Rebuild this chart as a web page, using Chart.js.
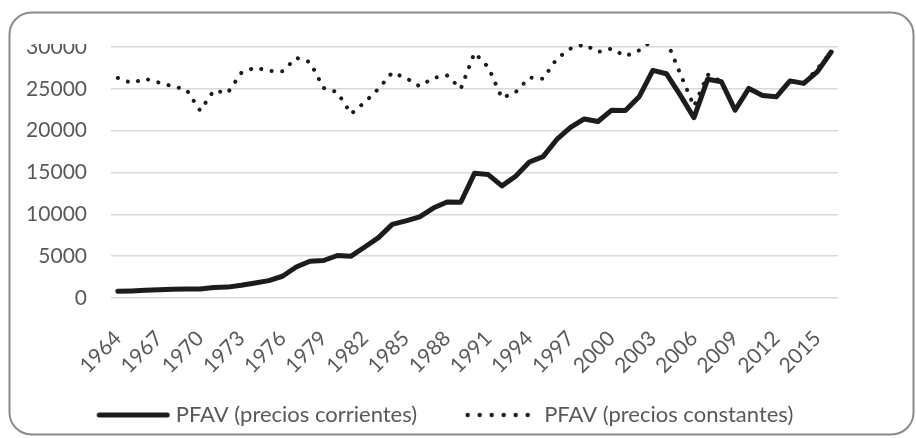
<!DOCTYPE html>
<html>
<head>
<meta charset="utf-8">
<script src="https://cdn.jsdelivr.net/npm/chart.js@4/dist/chart.umd.min.js"></script>
<style>
  html, body { margin: 0; padding: 0; background: #fff; }
  #wrap { width: 916px; height: 438px; }
</style>
</head>
<body>
<div id="wrap"><canvas id="pfav-chart" width="916" height="438"></canvas></div>
<script>
// years on the x axis, only every 3rd one gets a label
const years = [];
for (let y = 1964; y <= 2016; y++) years.push(String(y));

const corrientes = [
  800, 850, 920, 1000, 1050, 1080, 1080, 1250, 1300, 1520,
  1800, 2080, 2600, 3700, 4400, 4480, 5080, 5000, 6100, 7220,
  8800, 9220, 9700, 10750, 11470, 11450, 14900, 14750, 13400, 14550,
  16250, 16900, 18950, 20400, 21400, 21100, 22450, 22400, 24050, 27200,
  26800, 24250, 21550, 26150, 25850, 22450, 25050, 24200, 24050, 25950,
  25650, 27050, 29400
];

const constantes = [
  26300, 25700, 26200, 25750, 25300, 24900, 22400, 24800, 24500, 26900,
  27550, 27150, 27100, 28700, 28200, 25100, 24600, 22000, 23400, 25000,
  26950, 26300, 25300, 26300, 26600, 25000, 29300, 27600, 23900, 24600,
  26350, 26200, 28600, 29800, 30300, 29400, 29800, 28900, 29600, 30800,
  30800, 26800, 22900, 26700, 25900, 22500, 25050, 24200, 24050, 25950,
  25650, 27400, 29400
];

const yTicks = [0, 5000, 10000, 15000, 20000, 25000, 30000];

const ink = "#1c1c1c";
const boxW = 106; // legend box; the marker picture is 11px wider

Chart.defaults.font.family = "Lato, 'DejaVu Sans', sans-serif";
Chart.defaults.font.size = 21;
Chart.defaults.color = "#595959";

// legend marker pictures, drawn against the right side so the empty
// left part works as the gap between the two legend entries
function legendMark(dotted) {
  const c = document.createElement("canvas");
  c.width = boxW + 11;
  c.height = 8;
  const g = c.getContext("2d");
  g.strokeStyle = ink;
  g.fillStyle = ink;
  if (dotted) {
    for (let x = 46; x < 108; x += 12) {
      g.beginPath();
      g.arc(x, 4, 2.2, 0, Math.PI * 2);
      g.fill();
    }
  } else {
    g.lineWidth = 5;
    g.lineCap = "round";
    g.beginPath();
    g.moveTo(46, 4);
    g.lineTo(c.width - 3, 4);
    g.stroke();
  }
  return c;
}

// rounded frame + the cut at the top of the picture
const framePlugin = {
  id: "frame",
  afterDraw(chart) {
    const ctx = chart.ctx;
    ctx.save();
    ctx.fillStyle = "#fff";
    ctx.fillRect(14, 14, 100, 30);
    ctx.strokeStyle = "#8a8a8a";
    ctx.lineWidth = 2;
    ctx.beginPath();
    ctx.roundRect(9.5, 12.5, 904, 422, 22);
    ctx.stroke();
    ctx.restore();
  }
};

new Chart(document.getElementById("pfav-chart"), {
  type: "line",
  data: {
    labels: years,
    datasets: [
      {
        label: "PFAV (precios corrientes)",
        data: corrientes,
        borderColor: ink,
        backgroundColor: ink,
        borderWidth: 5,
        borderCapStyle: "round",
        borderJoinStyle: "round",
        pointRadius: 0,
        pointStyle: legendMark(false),
        tension: 0,
        clip: { left: 10, top: 3, right: 10, bottom: 10 },
      },
      {
        label: "PFAV (precios constantes)",
        data: constantes,
        borderColor: ink,
        backgroundColor: ink,
        borderWidth: 4,
        borderDash: [0.1, 10.5],
        borderCapStyle: "round",
        borderJoinStyle: "round",
        pointRadius: 0,
        pointStyle: legendMark(true),
        tension: 0,
        clip: { left: 10, top: 3, right: 10, bottom: 10 },
      },
    ],
  },
  options: {
    responsive: false,
    animation: false,
    layout: { padding: { top: 47, left: 0, right: 64, bottom: 2 } },
    plugins: {
      tooltip: { enabled: false },
      legend: {
        position: "bottom",
        labels: {
          usePointStyle: true,
          pointStyleWidth: boxW,
          padding: 10,
          color: "#595959",
          font: { size: 22 },
        },
      },
    },
    scales: {
      x: {
        type: "category",
        offset: true,
        grid: { display: false },
        border: { display: false },
        ticks: {
          autoSkip: false,
          maxRotation: 45,
          minRotation: 45,
          padding: 20,
          callback: function (val, i) {
            return i % 3 === 0 ? years[i] : "";
          },
        },
        afterFit: function (s) { s.height = 96; },
      },
      y: {
        type: "linear",
        min: 0,
        max: 30000,
        afterBuildTicks: function (s) {
          s.ticks = yTicks.map((v) => ({ value: v }));
        },
        grid: { color: "#d9d9d9", lineWidth: 1.5, drawTicks: false },
        border: { display: false },
        ticks: {
          padding: 24,
          callback: function (v) { return String(v); },
        },
        afterFit: function (s) { s.width = 111; },
      },
      // empty space on the right side of the plot
      yRight: {
        type: "linear",
        position: "right",
        grid: { display: false },
        border: { display: false },
        ticks: { display: false },
        afterFit: function (s) { s.width = 14; },
      },
    },
  },
  plugins: [framePlugin],
});
</script>
</body>
</html>
